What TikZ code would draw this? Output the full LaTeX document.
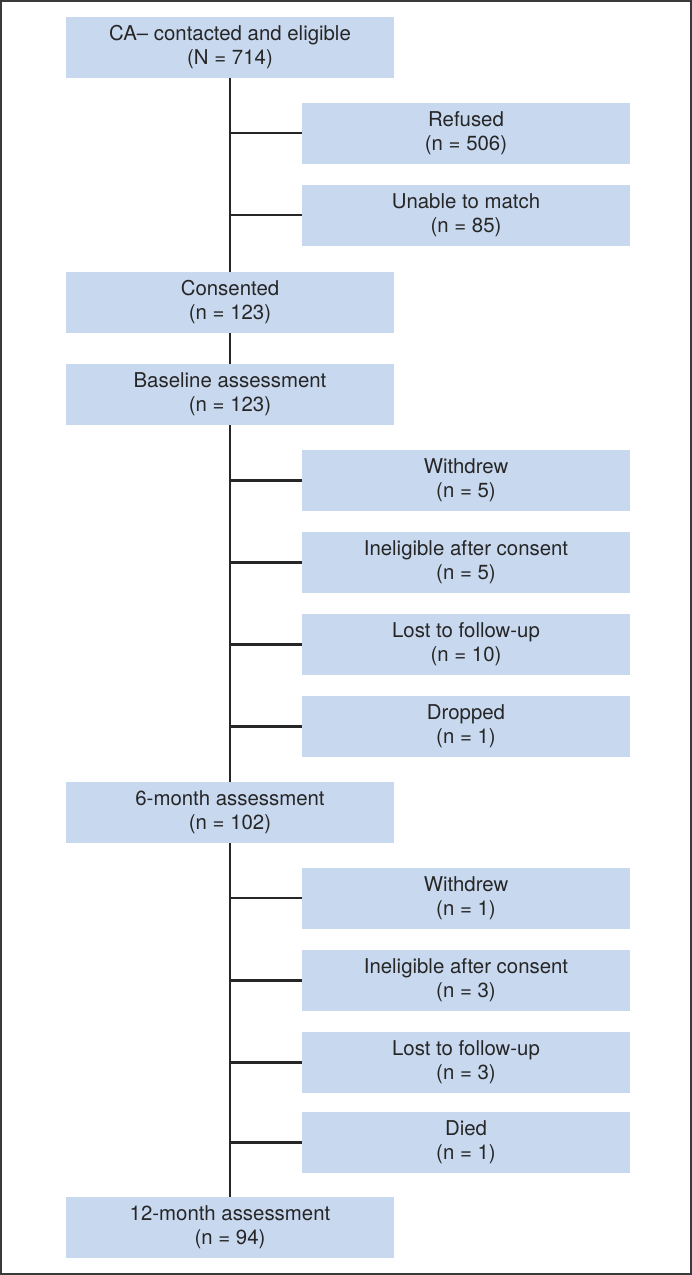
\documentclass[tikz,border=0pt]{standalone}
\usepackage{fontspec}
\setmainfont{TeX Gyre Heros}
\usetikzlibrary{calc}
\definecolor{boxblue}{HTML}{C8D8EF}
\definecolor{inkgray}{HTML}{262626}
\definecolor{framegray}{HTML}{3A3A3A}
\tikzset{
    stage/.style = {fill=boxblue, text=inkgray, align=center, inner sep=0pt,
        minimum width=328pt, minimum height=61pt,
        font=\fontsize{20.4}{24}\selectfont},
    outbox/.style = {stage},
    link/.style = {draw=inkgray, line width=2.7pt},
}
\begin{document}
\begin{tikzpicture}[x=1pt, y=-1pt]
\useasboundingbox (0,0) rectangle (692,1275);
\draw[draw=framegray, line width=2pt] (1,1) rectangle (691,1274);

\node[stage] (top) at (230,47) {CA-- contacted and eligible\\(N = 714)};
\node[outbox] (ref) at (466,133) {Refused\\(n = 506)};
\node[outbox] (unm) at (466,215) {Unable to match\\(n = 85)};
\node[stage] (cons) at (230,302.5) {Consented\\(n = 123)};
\node[stage] (base) at (230,394.5) {Baseline assessment\\(n = 123)};

\node[outbox] (wdA) at (466,480.5) {Withdrew\\(n = 5)};
\node[outbox] (inA) at (466,562.5) {Ineligible after consent\\(n = 5)};
\node[outbox] (lfA) at (466,644.5) {Lost to follow-up\\(n = 10)};
\node[outbox] (drA) at (466,726.5) {Dropped\\(n = 1)};
\node[stage] (six) at (230,812.5) {6-month assessment\\(n = 102)};

\node[outbox] (wdB) at (466,898) {Withdrew\\(n = 1)};
\node[outbox] (inB) at (466,980.5) {Ineligible after consent\\(n = 3)};
\node[outbox] (lfB) at (466,1062.5) {Lost to follow-up\\(n = 3)};
\node[outbox] (diB) at (466,1142.5) {Died\\(n = 1)};
\node[stage] (twelve) at (230,1227.5) {12-month assessment\\(n = 94)};

\draw[link] (top) -- (cons);
\draw[link] (cons) -- (base);
\draw[link] (base) -- (six);
\draw[link] (six) -- (twelve);

\draw[link] (top.south |- ref.west) -- (ref.west);
\draw[link] (top.south |- unm.west) -- (unm.west);
\draw[link] (base.south |- wdA.west) -- (wdA.west);
\draw[link] (base.south |- inA.west) -- (inA.west);
\draw[link] (base.south |- lfA.west) -- (lfA.west);
\draw[link] (base.south |- drA.west) -- (drA.west);
\draw[link] (six.south |- wdB.west) -- (wdB.west);
\draw[link] (six.south |- inB.west) -- (inB.west);
\draw[link] (six.south |- lfB.west) -- (lfB.west);
\draw[link] (six.south |- diB.west) -- (diB.west);
\end{tikzpicture}
\end{document}
